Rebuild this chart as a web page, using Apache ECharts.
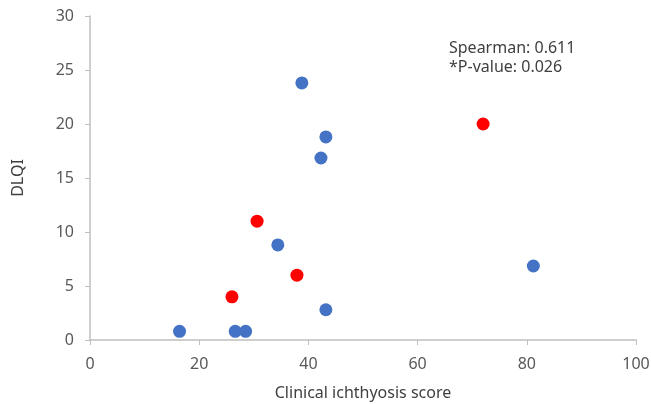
<!DOCTYPE html>
<html>
<head>
<meta charset="utf-8">
<script src="https://cdn.jsdelivr.net/npm/echarts@6/dist/echarts.min.js"></script>
<style>
  html, body { margin: 0; padding: 0; background: #fff; }
  #main { width: 651px; height: 404px; }
</style>
</head>
<body>
<div id="main"></div>
<script>
// blue points
var blueScores = [38.8, 43.2, 42.3, 34.4, 43.2, 81.2, 16.4, 26.6, 28.5];
var blueDlqi = [23.8, 18.8, 16.85, 8.8, 2.8, 6.85, 0.8, 0.8, 0.8];
// red points
var redScores = [72.0, 30.6, 37.9, 26.0];
var redDlqi = [20, 11, 6, 4];

var xTicks = [0, 20, 40, 60, 80, 100];
var yTicks = [0, 5, 10, 15, 20, 25, 30];
var noteLines = ['Spearman: 0.611', '*P-value: 0.026'];

function pairs(xs, ys) {
  return xs.map(function (x, i) { return [x, ys[i]]; });
}

var chart = echarts.init(document.getElementById('main'));
var font = 'Noto Sans';
var option = {
  animation: false,
  grid: { left: 90, right: 15, top: 16, bottom: 64, outerBoundsMode: 'none', containLabel: false },
  xAxis: {
    type: 'value',
    min: xTicks[0], max: xTicks[xTicks.length - 1], interval: 20,
    name: 'Clinical ichthyosis score',
    nameLocation: 'middle', nameGap: 45,
    nameTextStyle: { fontFamily: font, fontSize: 16, color: '#404040' },
    axisLine: { show: true, lineStyle: { color: '#BFBFBF', width: 1.5 } },
    axisTick: { show: true, length: 5, lineStyle: { color: '#BFBFBF' } },
    axisLabel: { margin: 16, fontFamily: font, fontSize: 16, color: '#595959' },
    splitLine: { show: false }
  },
  yAxis: {
    type: 'value',
    min: yTicks[0], max: yTicks[yTicks.length - 1], interval: 5,
    name: 'DLQI',
    nameLocation: 'middle', nameGap: 64,
    nameTextStyle: { fontFamily: font, fontSize: 16, color: '#404040' },
    axisLine: { show: true, lineStyle: { color: '#BFBFBF', width: 1.5 } },
    axisTick: { show: true, length: 5, lineStyle: { color: '#BFBFBF' } },
    axisLabel: { margin: 16, fontFamily: font, fontSize: 16, color: '#595959' },
    splitLine: { show: false }
  },
  graphic: [{
    type: 'text',
    left: 449, top: 39,
    style: {
      text: noteLines.join('\n'),
      fontFamily: font, fontSize: 16, lineHeight: 19,
      fill: '#404040'
    }
  }],
  series: [
    {
      type: 'scatter',
      data: pairs(blueScores, blueDlqi),
      symbolSize: 13,
      itemStyle: { color: '#4472C4', opacity: 1 }
    },
    {
      type: 'scatter',
      data: pairs(redScores, redDlqi),
      symbolSize: 13,
      itemStyle: { color: '#FF0000', opacity: 1 }
    }
  ]
};
chart.setOption(option);
</script>
</body>
</html>
